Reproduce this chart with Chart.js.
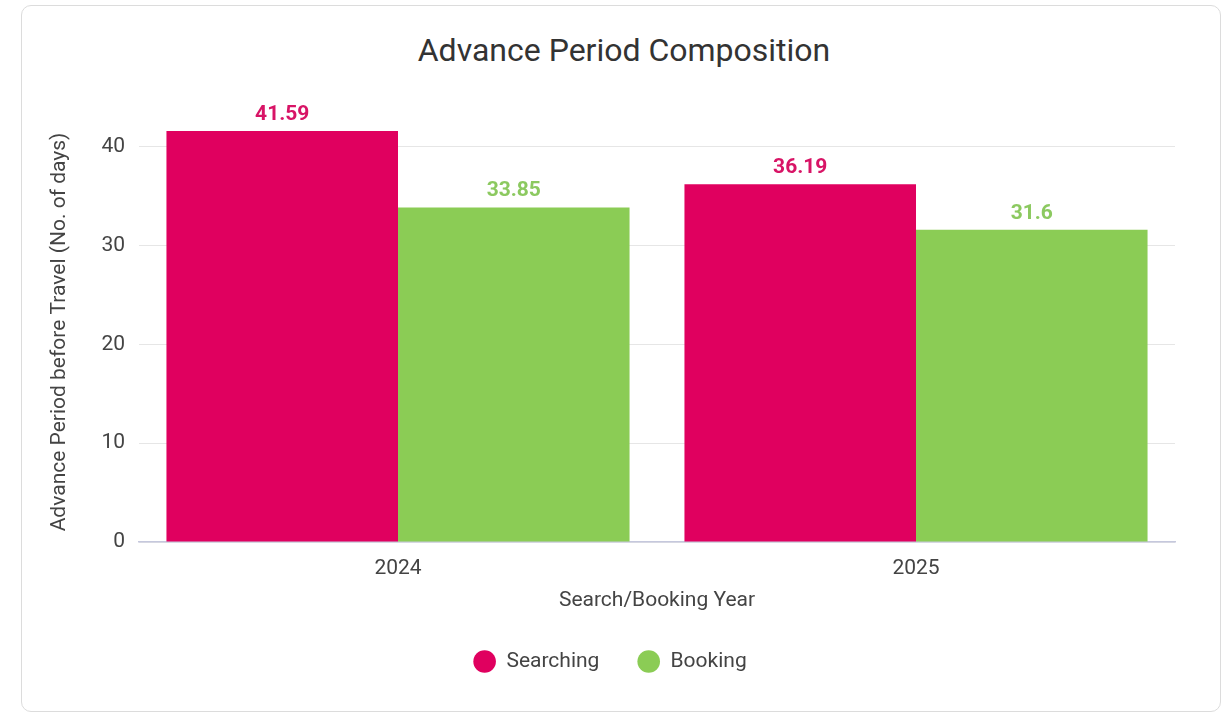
<html>
<head>
    <script src="https://cdn.jsdelivr.net/npm/chart.js@4.4.0/dist/chart.umd.min.js"></script>
    <style>
        body {
            margin: 0;
            background: #fff;
            font-family: Roboto, sans-serif;
        }
        #card {
            position: absolute;
            left: 21px;
            top: 5px;
            width: 1198px;
            height: 705px;
            border: 1.5px solid #dcdcdc;
            border-radius: 10px;
        }
        #chartTitle {
            position: absolute;
            left: 274px;
            width: 700px;
            top: 31px;
            line-height: 38px;
            text-align: center;
            font-size: 32px;
            color: #333;
        }
        #chartContainer {
            position: absolute;
            left: 0;
            top: 0;
            width: 1226px;
            height: 712px;
        }
    </style>
</head>

<body>
    <div id="card"></div>
    <div id="chartTitle">Advance Period Composition</div>
    <div id="chartContainer">
        <canvas id="myChart"></canvas>
    </div>
</body>

<script>
    // chart data
    var years = ['2024', '2025'];
    var searching = [41.59, 36.19];
    var booking = [33.85, 31.6];
    var yTicks = [0, 10, 20, 30, 40];

    var pink = '#E0005F';
    var green = '#8BCC55';

    // draw value labels above each bar
    var valueLabels = {
        id: 'valueLabels',
        afterDatasetsDraw(chart) {
            var ctx = chart.ctx;
            ctx.save();
            ctx.font = 'bold 21px Roboto';
            ctx.textAlign = 'center';
            ctx.textBaseline = 'alphabetic';
            chart.data.datasets.forEach((ds, i) => {
                chart.getDatasetMeta(i).data.forEach((bar, j) => {
                    ctx.fillStyle = ds.labelColor;
                    ctx.fillText(ds.data[j], bar.x, bar.y - 11);
                });
            });
            ctx.restore();
        }
    };

    var ctx = document.getElementById('myChart').getContext('2d');
    var myChart = new Chart(ctx, {
        type: 'bar',
        data: {
            labels: years,
            datasets: [{
                label: 'Searching',
                data: searching,
                backgroundColor: pink,
                labelColor: '#D81466'
            }, {
                label: 'Booking',
                data: booking,
                backgroundColor: green,
                labelColor: '#8CC960'
            }]
        },
        options: {
            responsive: true,
            maintainAspectRatio: false,
            animation: false,
            layout: {
                padding: { left: 45, right: 51, top: 122, bottom: 30 }
            },
            datasets: {
                bar: { categoryPercentage: 0.894, barPercentage: 1 }
            },
            scales: {
                x: {
                    grid: { display: false, drawTicks: false },
                    border: { color: '#c5c8dd', width: 1.5 },
                    ticks: { color: '#444', font: { family: 'Roboto', size: 21 }, padding: 14 },
                    title: {
                        display: true,
                        text: 'Search/Booking Year',
                        color: '#444',
                        font: { family: 'Roboto', size: 21 },
                        padding: { top: 4, bottom: 0 }
                    },
                    afterFit(scale) { scale.height = 71; }
                },
                y: {
                    min: 0,
                    max: 42.5,
                    grid: { color: '#e6e6e6', drawTicks: false },
                    border: { display: false },
                    ticks: { color: '#444', font: { family: 'Roboto', size: 21 }, padding: 14, stepSize: 10 },
                    afterBuildTicks(axis) {
                        axis.ticks = yTicks.map(v => ({ value: v }));
                    },
                    title: {
                        display: true,
                        text: 'Advance Period before Travel (No. of days)',
                        color: '#444',
                        font: { family: 'Roboto', size: 21 },
                        padding: { top: 2, bottom: 0 }
                    },
                    afterFit(scale) { scale.width = 94; }
                }
            },
            plugins: {
                legend: {
                    position: 'bottom',
                    labels: {
                        color: '#444',
                        font: { family: 'Roboto', size: 21 },
                        usePointStyle: true,
                        pointStyle: 'circle',
                        boxHeight: 16,
                        pointStyleWidth: 22.6,
                        padding: 38
                    }
                },
                tooltip: { enabled: false }
            }
        },
        plugins: [valueLabels]
    });
</script>
</html>
